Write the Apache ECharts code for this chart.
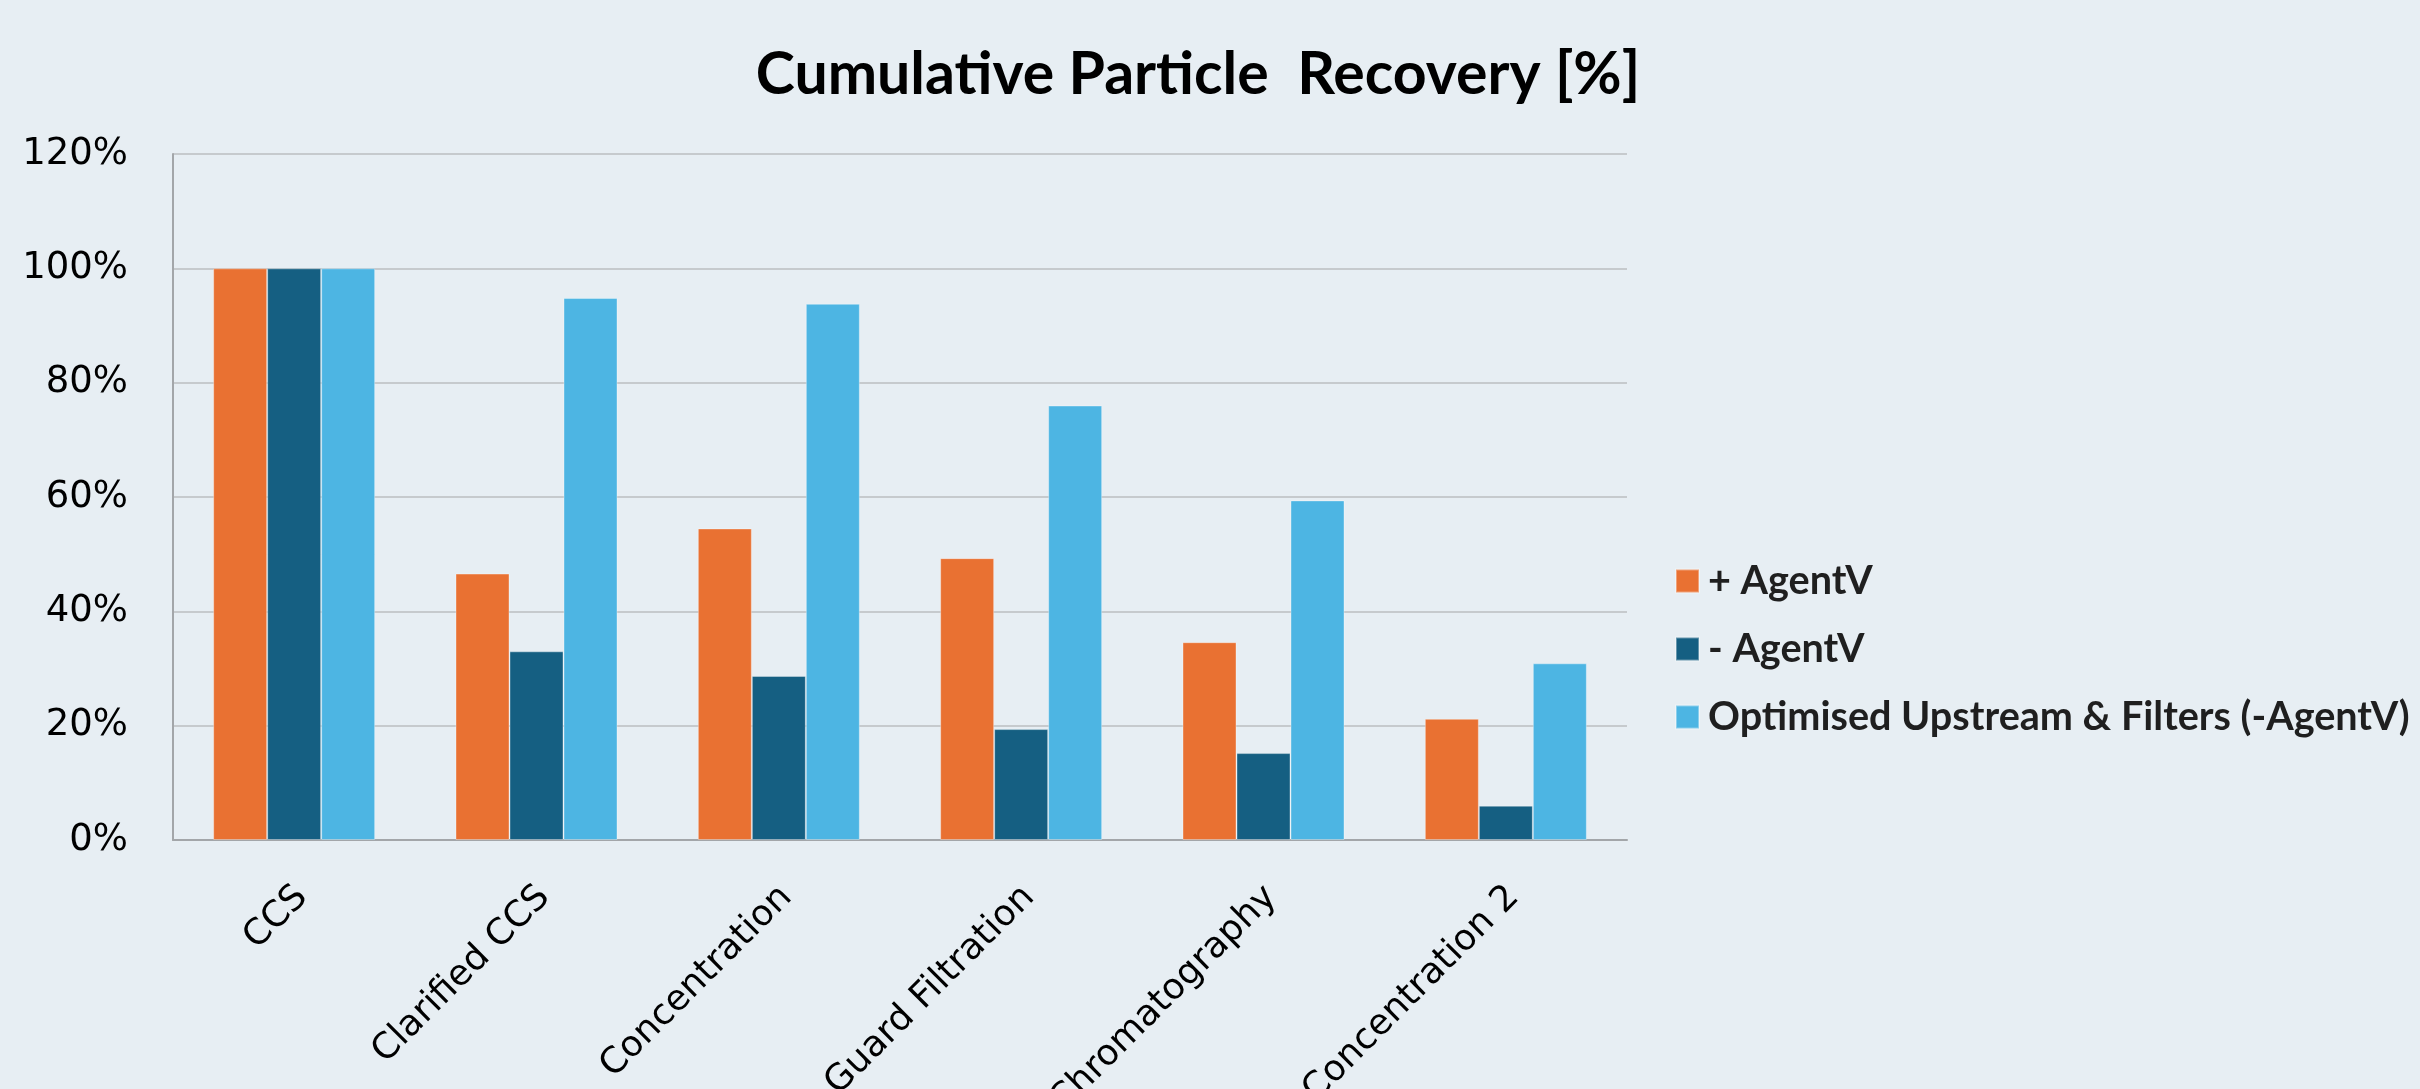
<!DOCTYPE html>
<html>
<head>
<meta charset="utf-8">
<script src="https://cdn.jsdelivr.net/npm/echarts@6/dist/echarts.min.js"></script>
<style>
  html, body { margin: 0; padding: 0; background: #E7EEF3; }
  #chart { width: 2420px; height: 1089px; }
</style>
</head>
<body>
<div id="chart"></div>
<script>
// data (percent)
const steps = ['CCS', 'Clarified CCS', 'Concentration', 'Guard Filtration', 'Chromatography', 'Concentration 2'];
const withAgent = [100, 46.6, 54.5, 49.3, 34.6, 21.2];
const withoutAgent = [100, 33.0, 28.7, 19.4, 15.2, 6.0];
const optimised = [100, 94.8, 93.8, 76.0, 59.4, 30.9];
const seriesNames = ['+ AgentV', '- AgentV', 'Optimised Upstream & Filters (-AgentV)'];
const colors = ['#E97132', '#155F82', '#4DB5E3'];

let myChart = echarts.init(document.getElementById('chart'));

function barSeries(name, values, color) {
    return {
        name: name,
        type: 'bar',
        data: values,
        barWidth: 54,
        barGap: '0%',
        itemStyle: {
            color: color,
            borderColor: 'rgba(255,255,255,0.35)',
            borderWidth: 1
        }
    };
}

myChart.setOption({
    backgroundColor: '#E7EEF3',
    color: colors,
    title: {
        text: 'Cumulative Particle  Recovery [%]',
        left: 1193,
        textAlign: 'center',
        top: 40,
        textStyle: {
            fontFamily: 'Lato',
            fontWeight: 'bold',
            fontSize: 59,
            color: '#000000'
        }
    },
    legend: {
        orient: 'vertical',
        left: 1670,
        top: 556,
        icon: 'rect',
        itemWidth: 23,
        itemHeight: 23,
        itemGap: 28,
        data: seriesNames,
        textStyle: {
            fontFamily: 'Lato',
            fontWeight: 'bold',
            fontSize: 39.6,
            color: '#1F1F1F',
            padding: [0, 0, 0, 4]
        }
    },
    grid: {
        left: 173,
        right: 793,
        top: 154,
        bottom: 249,
        outerBoundsMode: 'none',
        containLabel: false
    },
    xAxis: {
        type: 'category',
        data: steps,
        axisTick: { show: false },
        axisLine: { lineStyle: { color: '#A3A6A9', width: 2 } },
        axisLabel: {
            rotate: 45,
            margin: 44,
            verticalAlign: 'top',
            lineHeight: 22,
            fontFamily: 'DejaVu Sans',
            fontSize: 36,
            color: '#000000'
        }
    },
    yAxis: {
        type: 'value',
        min: 0,
        max: 120,
        interval: 20,
        axisLine: { show: true, lineStyle: { color: '#A3A6A9', width: 2 } },
        axisTick: { show: false },
        splitLine: { lineStyle: { color: '#BBBEC1', width: 1.5 } },
        axisLabel: {
            formatter: '{value}%',
            margin: 45,
            fontFamily: 'DejaVu Sans',
            fontSize: 37,
            color: '#000000'
        }
    },
    series: [
        barSeries(seriesNames[0], withAgent, colors[0]),
        barSeries(seriesNames[1], withoutAgent, colors[1]),
        barSeries(seriesNames[2], optimised, colors[2])
    ]
});
</script>
</body>
</html>
